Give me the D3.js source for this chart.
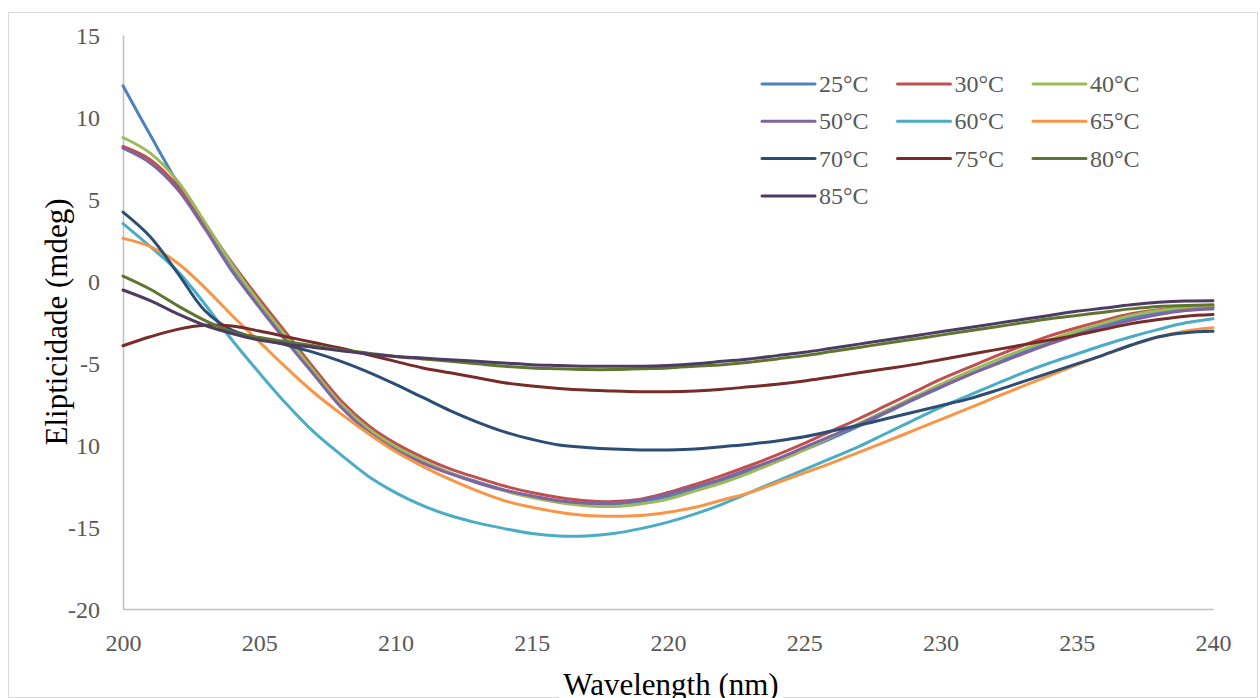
<!DOCTYPE html>
<html>
<head>
<meta charset="utf-8">
<script src="https://cdn.jsdelivr.net/npm/d3@7"></script>
<style>
  body { margin: 0; background: #fff; }
  text { font-family: "Liberation Serif", "Times New Roman", serif; }
</style>
</head>
<body>
<div id="chart"></div>
<script>
// wavelength (nm) - one reading per nm
const wavelengths = [200, 201, 202, 203, 204, 205, 206, 207, 208, 209, 210,
  211, 212, 213, 214, 215, 216, 217, 218, 219, 220,
  221, 222, 223, 224, 225, 226, 227, 228, 229, 230,
  231, 232, 233, 234, 235, 236, 237, 238, 239, 240];

// ellipticity (mdeg), one array per temperature
const t25 = [11.9, 8.9, 6.0, 3.5, 0.9, -1.4, -3.5, -5.6, -7.6, -9.1, -10.2, -11.0, -11.7, -12.25, -12.75, -13.15, -13.45, -13.6, -13.6, -13.45, -13.15, -12.7, -12.2, -11.6, -11.0, -10.3, -9.6, -8.85, -8.05, -7.25, -6.5, -5.75, -5.05, -4.35, -3.75, -3.15, -2.65, -2.25, -1.9, -1.7, -1.6];
const t30 = [8.2, 7.4, 5.8, 3.5, 1.1, -1.1, -3.2, -5.3, -7.3, -8.8, -9.9, -10.75, -11.45, -12.0, -12.5, -12.9, -13.2, -13.4, -13.45, -13.3, -12.9, -12.4, -11.85, -11.25, -10.6, -9.9, -9.15, -8.4, -7.6, -6.8, -6.0, -5.3, -4.6, -3.95, -3.35, -2.85, -2.4, -2.0, -1.75, -1.6, -1.55];
const t40 = [8.75, 7.8, 6.1, 3.6, 1.0, -1.3, -3.4, -5.5, -7.5, -9.0, -10.1, -10.95, -11.7, -12.3, -12.8, -13.2, -13.5, -13.7, -13.75, -13.6, -13.3, -12.8, -12.3, -11.7, -11.0, -10.3, -9.5, -8.7, -7.9, -7.1, -6.3, -5.55, -4.85, -4.2, -3.6, -3.05, -2.55, -2.1, -1.8, -1.6, -1.5];
const t50 = [8.1, 7.2, 5.6, 3.2, 0.6, -1.6, -3.7, -5.7, -7.7, -9.2, -10.3, -11.1, -11.75, -12.3, -12.75, -13.1, -13.4, -13.55, -13.55, -13.35, -13.0, -12.55, -12.05, -11.45, -10.85, -10.15, -9.45, -8.75, -8.0, -7.2, -6.45, -5.75, -5.1, -4.45, -3.85, -3.3, -2.8, -2.4, -2.05, -1.8, -1.7];
const t60 = [3.5, 2.1, 0.6, -1.4, -3.6, -5.6, -7.5, -9.2, -10.6, -11.9, -12.9, -13.7, -14.3, -14.75, -15.1, -15.4, -15.55, -15.55, -15.4, -15.1, -14.7, -14.2, -13.6, -12.9, -12.2, -11.5, -10.8, -10.1, -9.3, -8.5, -7.7, -7.0, -6.3, -5.62, -5.0, -4.45, -3.9, -3.4, -2.95, -2.55, -2.3];
const t65 = [2.6, 2.1, 1.1, -0.4, -2.1, -3.7, -5.3, -6.8, -8.1, -9.3, -10.4, -11.3, -12.1, -12.8, -13.4, -13.8, -14.1, -14.3, -14.35, -14.3, -14.1, -13.8, -13.35, -12.9, -12.3, -11.7, -11.1, -10.45, -9.8, -9.12, -8.45, -7.78, -7.1, -6.43, -5.77, -5.12, -4.5, -3.92, -3.42, -3.05, -2.85];
const t70 = [4.2, 2.7, 0.5, -1.8, -3.0, -3.5, -3.9, -4.35, -4.9, -5.55, -6.3, -7.1, -7.9, -8.6, -9.2, -9.65, -10.0, -10.15, -10.25, -10.3, -10.3, -10.25, -10.1, -9.95, -9.75, -9.5, -9.15, -8.8, -8.4, -8.0, -7.6, -7.2, -6.7, -6.15, -5.6, -5.05, -4.5, -3.9, -3.4, -3.15, -3.07];
const t75 = [-3.95, -3.4, -2.95, -2.7, -2.75, -3.05, -3.4, -3.75, -4.1, -4.5, -4.9, -5.3, -5.6, -5.9, -6.2, -6.4, -6.55, -6.65, -6.7, -6.75, -6.75, -6.7, -6.6, -6.45, -6.3, -6.1, -5.85, -5.6, -5.35, -5.1, -4.8, -4.5, -4.2, -3.9, -3.6, -3.3, -2.95, -2.6, -2.35, -2.15, -2.05];
const t80 = [0.3, -0.5, -1.5, -2.4, -3.1, -3.45, -3.7, -3.95, -4.2, -4.4, -4.6, -4.75, -4.9, -5.05, -5.2, -5.3, -5.35, -5.4, -5.4, -5.35, -5.3, -5.2, -5.1, -4.95, -4.75, -4.55, -4.3, -4.05, -3.8, -3.55, -3.3, -3.05, -2.8, -2.55, -2.3, -2.1, -1.9, -1.7, -1.55, -1.5, -1.45];
const t85 = [-0.55, -1.2, -2.0, -2.7, -3.2, -3.6, -3.85, -4.05, -4.25, -4.45, -4.6, -4.7, -4.8, -4.9, -5.0, -5.1, -5.15, -5.2, -5.2, -5.2, -5.15, -5.05, -4.9, -4.75, -4.55, -4.35, -4.1, -3.85, -3.6, -3.35, -3.1, -2.85, -2.6, -2.35, -2.1, -1.85, -1.65, -1.45, -1.3, -1.22, -1.2];

const seriesNames = ["25°C", "30°C", "40°C", "50°C", "60°C", "65°C", "70°C", "75°C", "80°C", "85°C"];
const seriesValues = [t25, t30, t40, t50, t60, t65, t70, t75, t80, t85];
const seriesColors = ["#4f81bd", "#c0504d", "#9bbb59", "#8064a2", "#4bacc6", "#f79646", "#2c4d75", "#772c2a", "#5f7530", "#4d3b62"];

const xTicks = [200, 205, 210, 215, 220, 225, 230, 235, 240];
const yTicks = [15, 10, 5, 0, -5, -10, -15, -20];

let width = 1260;
let height = 698;

// plot area
const plot = { left: 123, right: 1213, top: 35, bottom: 609 };

const svg = d3.select("#chart")
              .append("svg")
              .attr("width", width)
              .attr("height", height);

// chart frame
svg.append("rect")
   .attr("x", 8.5)
   .attr("y", 12.5)
   .attr("width", 1249)
   .attr("height", 685)
   .style("fill", "#fff")
   .style("stroke", "#d9d9d9")
   .style("stroke-width", 1);

const x = d3.scaleLinear().domain([200, 240]).range([plot.left, plot.right]);
const y = d3.scaleLinear().domain([-20, 15]).range([plot.bottom, plot.top]);

// axes, no tick marks, just the labels (plain hyphen for negatives like Excel)
const xAxis = svg.append("g")
  .attr("transform", "translate(0," + plot.bottom + ")")
  .call(d3.axisBottom(x).tickValues(xTicks).tickSize(0).tickPadding(25).tickFormat(function(d) { return String(d); }));

const yAxis = svg.append("g")
  .attr("transform", "translate(" + plot.left + ",0)")
  .call(d3.axisLeft(y).tickValues(yTicks).tickSize(0).tickPadding(23).tickFormat(function(d) { return String(d); }));

[xAxis, yAxis].forEach(function(ax) {
  ax.select(".domain").style("stroke", "#bfbfbf").style("stroke-width", 1.5);
  ax.selectAll("text")
    .style("font-family", "'Liberation Serif', 'Times New Roman', serif")
    .style("font-size", "24px")
    .style("fill", "#595959");
});
yAxis.selectAll("text").attr("dy", "0.34em");

// the lines
const line = d3.line()
  .x(function(d, i) { return x(wavelengths[i]); })
  .y(function(d) { return y(d); })
  .curve(d3.curveCatmullRom);

svg.append("g")
  .selectAll("path")
  .data(seriesValues)
  .enter()
  .append("path")
  .attr("d", line)
  .style("fill", "none")
  .style("stroke", function(d, i) { return seriesColors[i]; })
  .style("stroke-width", 3)
  .style("stroke-linecap", "round")
  .style("stroke-linejoin", "round");

// legend - 3 columns
const legend = svg.append("g");
seriesNames.forEach(function(name, i) {
  let col = i % 3;
  let row = Math.floor(i / 3);
  let lx = 762 + col * 135.5;
  let ly = 84 + row * 37.3;
  legend.append("line")
    .attr("x1", lx).attr("x2", lx + 53)
    .attr("y1", ly).attr("y2", ly)
    .style("stroke", seriesColors[i])
    .style("stroke-width", 3)
    .style("stroke-linecap", "round");
  legend.append("text")
    .attr("x", lx + 57)
    .attr("y", ly)
    .attr("dy", "0.34em")
    .style("font-size", "24px")
    .style("fill", "#595959")
    .text(name);
});

// axis titles sit on a white box (it hides part of the frame / a tick label)
function addTitle(txt, tx, ty, rot) {
  let g = svg.append("g").attr("transform", "translate(" + tx + "," + ty + ") rotate(" + rot + ")");
  let t = g.append("text")
    .attr("text-anchor", "middle")
    .attr("dy", "0.34em")
    .style("font-size", "31px")
    .style("fill", "#000")
    .text(txt);
  let bb = t.node().getBBox();
  g.insert("rect", "text")
    .attr("x", bb.x - 4)
    .attr("y", bb.y - 2)
    .attr("width", bb.width + 8)
    .attr("height", bb.height + 4)
    .style("fill", "#fff");
}

addTitle("Elipticidade (mdeg)", 56, 322, -90);
addTitle("Wavelength (nm)", 671, 684, 0);
</script>
</body>
</html>
